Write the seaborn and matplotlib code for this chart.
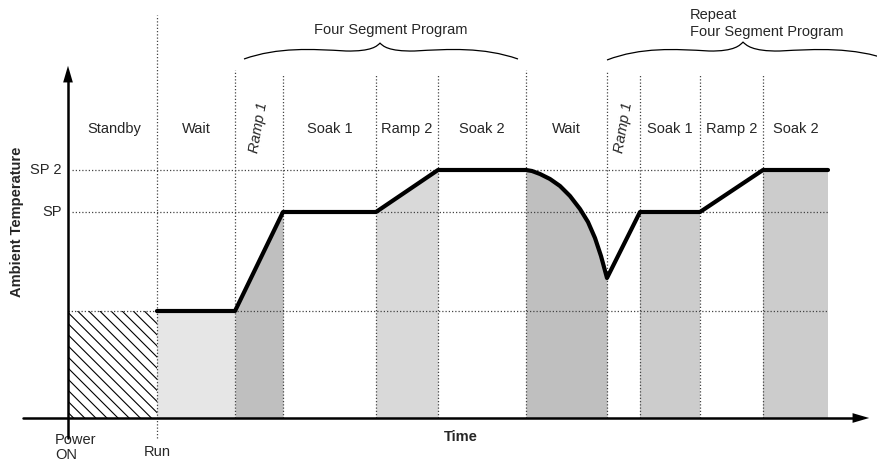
import numpy as np
import pandas as pd
import matplotlib
matplotlib.use("Agg")
import matplotlib.pyplot as plt
import seaborn as sns
from matplotlib.path import Path
from matplotlib.patches import PathPatch

sns.set_style("white")
plt.rcParams['font.family'] = ['Liberation Sans', 'DejaVu Sans']

H = 462  # canvas height, values below are y measured upward from bottom

# segment boundaries (time)
t_power = 68
t_run = 157
t_bounds = [157, 235, 283, 376, 438, 526, 607, 640, 700, 763, 828]
seg_labels = ["Wait", "Ramp 1", "Soak 1", "Ramp 2", "Soak 2",
              "Wait", "Ramp 1", "Soak 1", "Ramp 2", "Soak 2"]

# temperature levels
t_base = H - 418
ambient = H - 311
sp = H - 212
sp2 = H - 170

# temperature profile (pixel rows, converted upward)
prof_x = [157, 235, 283, 376, 438, 526, 532, 540, 550, 560, 570, 580, 588, 595,
          601, 607, 640, 700, 763, 828]
prof_rows = [311, 311, 212, 212, 170, 170, 171, 174, 179, 186, 196, 209, 222, 238,
             256, 278, 212, 212, 170, 170]
prof = pd.DataFrame({"time": prof_x, "temp": [H - r for r in prof_rows]})

# shading for each segment (None = no fill)
seg_fill = ["#e6e6e6", "#bfbfbf", None, "#d9d9d9", None,
            "#bfbfbf", None, "#cccccc", None, "#cccccc"]

fig = plt.figure(figsize=(8.78, 4.62), dpi=100)
ax = fig.add_axes([0, 0, 1, 1])
ax.set_xlim(0, 878)
ax.set_ylim(0, H)

dot = dict(color="#444444", lw=0.9, ls=(0, (1, 1.6)))

# shaded areas under the profile
xs = prof["time"].to_numpy(float)
ys = prof["temp"].to_numpy(float)
for i, c in enumerate(seg_fill):
    if c is None:
        continue
    a, b = t_bounds[i], t_bounds[i + 1]
    m = (xs >= a) & (xs <= b)
    ax.fill_between(xs[m], t_base, ys[m], color=c, lw=0, zorder=1)

# standby hatched block
plt.rcParams['hatch.linewidth'] = 0.8
ax.fill_between([t_power, t_run], t_base, ambient, facecolor="none",
                edgecolor="black", hatch="\\\\\\", lw=0, zorder=1)

# dotted level lines
for lvl in [sp2, sp]:
    ax.plot([72, 828], [lvl, lvl], zorder=2, **dot)
ax.plot([68, 828], [ambient, ambient], zorder=2, **dot)

# dotted segment boundaries
tops = [H - 15, H - 70, H - 75, H - 75, H - 75, H - 70, H - 72, H - 75, H - 75, H - 75]
for x, top in zip(t_bounds[:-1], tops):
    bottom = H - 438 if x == t_run else t_base
    ax.plot([x, x], [bottom, top], zorder=2, **dot)

# profile line
sns.lineplot(data=prof, x="time", y="temp", sort=False, estimator=None,
             color="black", lw=3, ax=ax, zorder=4)
ax.set_xlabel("")
ax.set_ylabel("")
ax.axis("off")

# axes with arrows
ax.plot([68, 68], [H - 438, H - 80], color="black", lw=1.8, zorder=5)
ax.plot([23, 855], [t_base, t_base], color="black", lw=1.8, zorder=5)
ax.annotate("", xy=(68, H - 63), xytext=(68, H - 85),
            arrowprops=dict(arrowstyle="-|>,head_width=0.35,head_length=1.2",
                            color="black", lw=0), zorder=6)
ax.annotate("", xy=(872, t_base), xytext=(850, t_base),
            arrowprops=dict(arrowstyle="-|>,head_width=0.35,head_length=1.2",
                            color="black", lw=0), zorder=6)

fs = 10.5
# segment labels
ax.text(114, H - 129, "Standby", ha="center", va="center", fontsize=fs)
for i, lab in enumerate(seg_labels):
    cx = (t_bounds[i] + t_bounds[i + 1]) / 2
    if lab == "Ramp 1":
        ax.text(cx, H - 128, lab, ha="center", va="center", fontsize=fs,
                style="italic", rotation=80)
    else:
        ax.text(cx, H - 129, lab, ha="center", va="center", fontsize=fs)

ax.text(62, sp2, "SP 2", ha="right", va="center", fontsize=fs)
ax.text(62, sp, "SP", ha="right", va="center", fontsize=fs)
ax.text(17, H - 222, "Ambient Temperature", ha="center", va="center",
        fontsize=fs, fontweight="bold", rotation=90)
ax.text(461, H - 437, "Time", ha="center", va="center", fontsize=fs,
        fontweight="bold")
ax.text(55, H - 440, "Power", ha="left", va="center", fontsize=fs)
ax.text(55, H - 455, "ON", ha="left", va="center", fontsize=fs)
ax.text(157, H - 452, "Run", ha="center", va="center", fontsize=fs)
ax.text(391, H - 30, "Four Segment Program", ha="center", va="center", fontsize=fs)
ax.text(690, H - 15, "Repeat", ha="left", va="center", fontsize=fs)
ax.text(690, H - 32, "Four Segment Program", ha="left", va="center", fontsize=fs)


def brace(x0, xm, x1, yb, yf, yt):
    verts = [(x0, yb),
             (x0 + 0.25 * (xm - x0), yf + 3), (x0 + 0.5 * (xm - x0), yf + 1),
             (xm - 0.25 * (xm - x0), yf - 1),
             (xm - 0.06 * (xm - x0), yf - 1.5), (xm - 0.02 * (xm - x0), yt - 3),
             (xm, yt),
             (xm + 0.02 * (x1 - xm), yt - 3), (xm + 0.06 * (x1 - xm), yf - 1.5),
             (xm + 0.25 * (x1 - xm), yf - 1),
             (xm + 0.5 * (x1 - xm), yf + 1), (x1 - 0.25 * (x1 - xm), yf + 3),
             (x1, yb)]
    codes = [Path.MOVETO] + [Path.CURVE4] * 12
    ax.add_patch(PathPatch(Path(verts, codes), fc="none", ec="black", lw=0.9))


brace(244, 380, 518, H - 59, H - 50, H - 43)
brace(607, 743, 890, H - 60, H - 50, H - 42)

fig.savefig("out.png", dpi=100)
